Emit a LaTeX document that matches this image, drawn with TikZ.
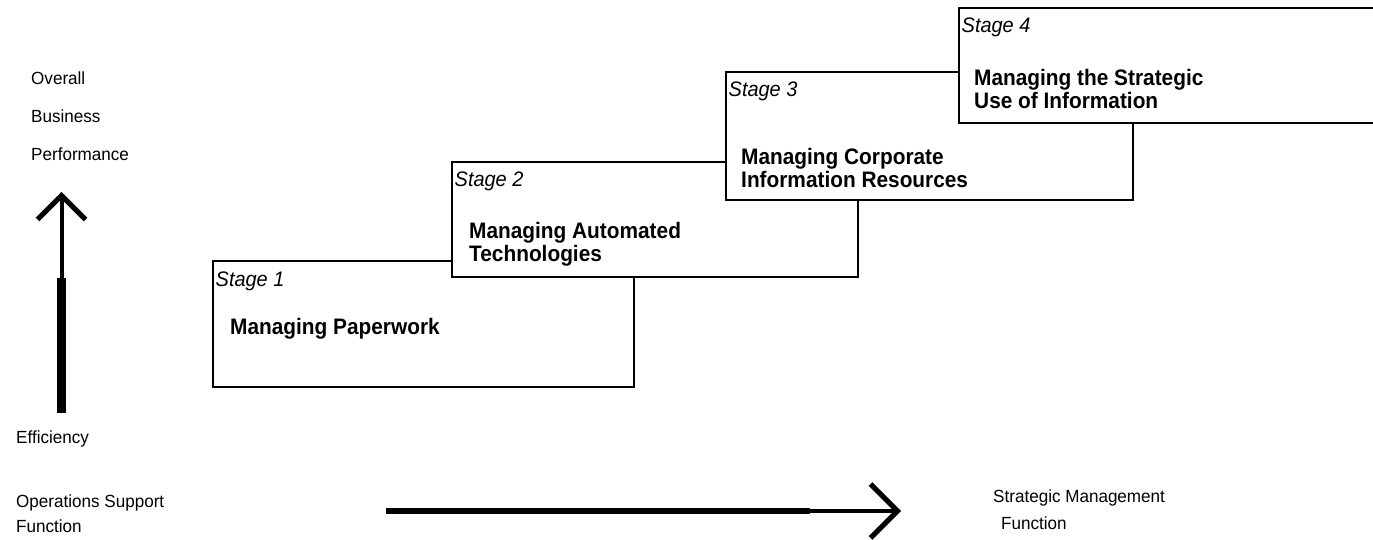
\documentclass[tikz,border=0pt]{standalone}
\usepackage{fontspec}
\setmainfont{Liberation Sans}
% slightly narrowed faces for the labels
\newfontfamily\titleface[FakeStretch=0.93]{Liberation Sans}
\newfontfamily\tagface[FakeStretch=0.95]{Liberation Sans}
\newfontfamily\axisface[FakeStretch=0.97]{Liberation Sans}
% two stacked lines with a fixed baseline distance; the box sits on its first line
\newcommand\twolines[3]{\vtop{\baselineskip=#1\lineskiplimit=-20pt\hbox{#2}\hbox{#3}}}
\begin{document}
\begin{tikzpicture}[x=1pt,y=-1pt,
  stagebox/.style={draw, line width=2.6pt, fill=white, rectangle, inner sep=0pt,
                   outer sep=0pt, anchor=north west},
  stagetag/.style={font=\tagface\fontsize{21}{24}\selectfont\itshape, inner sep=0pt, anchor=base west},
  stagetitle/.style={font=\titleface\fontsize{22.4}{23}\selectfont\bfseries, inner sep=0pt, anchor=base west},
  axislabel/.style={font=\axisface\fontsize{17.6}{20}\selectfont, inner sep=0pt, anchor=base west},
  barb/.style={line width=5pt, line join=miter, line cap=butt},
]
\path[use as bounding box] (0,0) rectangle (1373,540);
\clip (0,0) rectangle (1373,540);

% ---- vertical axis: business performance ----
\coordinate (vfoot) at (61.5,413);
\coordinate (vjoin) at (61.5,278);
\coordinate (vtip)  at (61.5,195.5);
\draw[line width=8.5pt] (vfoot) -- (vjoin);
\draw[line width=4pt] (vjoin) -- (vtip);
\draw[barb] ([shift={(-24,24)}]vtip) -- (vtip) -- ([shift={(24,24)}]vtip);

\node[axislabel] (overall) at (31,85)  {Overall};
\node[axislabel] (business) at (31,123) {Business};
\node[axislabel] (perf) at (31,161) {Performance};
\node[axislabel] (eff) at (16,443) {Efficiency};

% ---- horizontal axis: from operations support to strategic management ----
\coordinate (hstart) at (386,511);
\coordinate (hjoin)  at (810,511);
\coordinate (htip)   at (897.5,511);
\draw[line width=6.5pt] (hstart) -- (hjoin);
\draw[line width=4pt] (hjoin) -- (htip);
\draw[barb] ([shift={(-27,-27)}]htip) -- (htip) -- ([shift={(-27,27)}]htip);

\node[axislabel] (ops) at (16,507) {\twolines{25pt}{Operations Support}{Function}};
\node[axislabel] (strat) at (993,502) {\twolines{27pt}{Strategic Management}{\kern8pt Function}};

% ---- the four stages, each overlapping the one before ----
\node[stagebox, minimum width=421pt, minimum height=126pt] (s1) at (213,261) {};
\node[stagetag] (tag1) at ([shift={(2.5,25)}]s1.north west) {Stage 1};
\node[stagetitle] (title1) at ([shift={(17,73)}]s1.north west) {Managing Paperwork};

\node[stagebox, minimum width=406pt, minimum height=115pt] (s2) at (452,162) {};
\node[stagetag] (tag2) at ([shift={(2.5,25)}]s2.north west) {Stage 2};
\node[stagetitle] (title2) at ([shift={(17,76)}]s2.north west)
  {\twolines{23pt}{Managing Automated}{Technologies}};

\node[stagebox, minimum width=407pt, minimum height=128pt] (s3) at (726,72) {};
\node[stagetag] (tag3) at ([shift={(2.5,25)}]s3.north west) {Stage 3};
\node[stagetitle] (title3) at ([shift={(15,93)}]s3.north west)
  {\twolines{23pt}{Managing Corporate}{Information Resources}};

\node[stagebox, minimum width=430pt, minimum height=115pt] (s4) at (959,8) {};
\node[stagetag] (tag4) at ([shift={(2.5,25)}]s4.north west) {Stage 4};
\node[stagetitle] (title4) at ([shift={(15,78)}]s4.north west)
  {\twolines{23pt}{Managing the Strategic}{Use of Information}};
\end{tikzpicture}
\end{document}
